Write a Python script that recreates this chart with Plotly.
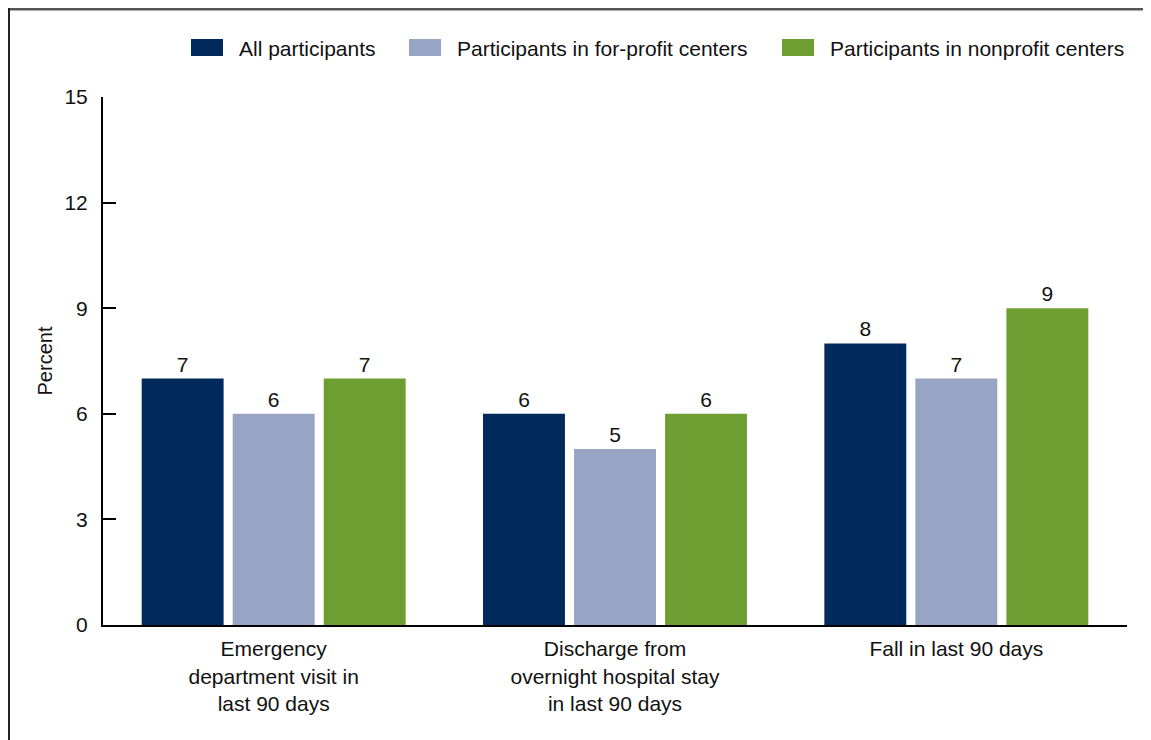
import plotly.graph_objects as go

categories = ["Emergency<br>department visit in<br>last 90 days",
              "Discharge from<br>overnight hospital stay<br>in last 90 days",
              "Fall in last 90 days"]
series_names = ["All participants", "Participants in for-profit centers",
                "Participants in nonprofit centers"]
all_participants = [7, 6, 8]
for_profit = [6, 5, 7]
nonprofit = [7, 6, 9]
colors = ["#002A5C", "#97A4C4", "#6E9E32"]
y_ticks = [0, 3, 6, 9, 12, 15]

FONT = "Liberation Sans, Arial, Helvetica, sans-serif"
TXT = "#111111"

# page is offset by 8px body margin: figure coords = reference coords - 8
OFF = 8
W, H = 1151, 740
L, R, T, B = 103 - OFF, W - (1127 - OFF), 97 - OFF, H - (625 - OFF)
pw, ph = W - L - R, H - T - B


def px(x):
    return (x - OFF - L) / pw


def py(y):
    return (H - B - (y - OFF)) / ph


fig = go.Figure()
for name, vals, col in zip(series_names, [all_participants, for_profit, nonprofit], colors):
    fig.add_trace(go.Bar(
        name=name, x=categories, y=vals, marker=dict(color=col, line=dict(width=0)),
        text=[str(v) for v in vals], textposition="outside",
        textfont=dict(size=21, color=TXT, family=FONT), cliponaxis=False,
        showlegend=False,
    ))

# manual legend (swatch rectangles + labels), reference pixel positions
legend_swatch_x = [191, 409, 782]
shapes = []
annotations = []
for name, col, sx in zip(series_names, colors, legend_swatch_x):
    shapes.append(dict(type="rect", xref="paper", yref="paper",
                       x0=px(sx), x1=px(sx + 32), y0=py(56), y1=py(39),
                       fillcolor=col, line=dict(width=0)))
    annotations.append(dict(xref="paper", yref="paper", x=px(sx + 46), y=py(48),
                            xanchor="left", yanchor="middle", showarrow=False,
                            text=name, font=dict(size=21, family=FONT, color=TXT)))

# frame
shapes.append(dict(type="line", xref="paper", yref="paper", x0=px(8), x1=px(1170),
                   y0=py(9), y1=py(9), line=dict(color="#555555", width=3)))
shapes.append(dict(type="line", xref="paper", yref="paper", x0=px(9), x1=px(9),
                   y0=py(8), y1=py(760), line=dict(color="#222222", width=2)))

fig.update_layout(
    width=W, height=H,
    margin=dict(l=L, r=R, t=T, b=B),
    barmode="group", bargap=0.2, bargroupgap=0.1,
    plot_bgcolor="white", paper_bgcolor="white",
    font=dict(family=FONT, size=21, color=TXT),
    showlegend=False,
    xaxis=dict(showline=True, linecolor="black", linewidth=2, ticks="",
               tickfont=dict(size=21, family=FONT, color=TXT), showgrid=False,
               fixedrange=True, ticklabelstandoff=4),
    yaxis=dict(range=[0, 15], tickvals=y_ticks, showline=True, linecolor="black", linewidth=2,
               ticks="inside", ticklen=13, tickwidth=2, tickcolor="black",
               tickfont=dict(size=21, family=FONT, color=TXT), showgrid=False,
               zeroline=False, ticklabelstandoff=9,
               title=dict(text="Percent", font=dict(size=20, family=FONT, color=TXT),
                          standoff=6)),
    shapes=shapes,
    annotations=annotations,
)

fig.write_html("out.html")
